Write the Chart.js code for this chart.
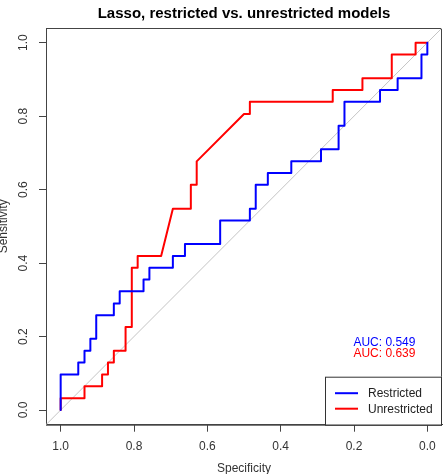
<!DOCTYPE html>
<html>
<head>
<meta charset="utf-8">
<script src="https://cdn.jsdelivr.net/npm/chart.js@4/dist/chart.umd.min.js"></script>
<style>
  html, body { margin: 0; padding: 0; background: #fff; }
</style>
</head>
<body>
<canvas id="rocChart" width="448" height="474"></canvas>
<script>
// ROC points (specificity, sensitivity)
const restrictedSpec = [1, 1, 0.952, 0.952, 0.935, 0.935, 0.919, 0.919, 0.903, 0.903, 0.855, 0.855, 0.839, 0.839,
    0.774, 0.774, 0.758, 0.758, 0.694, 0.694, 0.661, 0.661, 0.565, 0.565, 0.484, 0.484, 0.468, 0.468, 0.435, 0.435,
    0.371, 0.371, 0.290, 0.290, 0.242, 0.242, 0.226, 0.226, 0.129, 0.129, 0.081, 0.081, 0.016, 0.016, 0, 0]
const restrictedSens = [0, 0.097, 0.097, 0.129, 0.129, 0.161, 0.161, 0.194, 0.194, 0.258, 0.258, 0.290, 0.290, 0.323,
    0.323, 0.355, 0.355, 0.387, 0.387, 0.419, 0.419, 0.452, 0.452, 0.516, 0.516, 0.548, 0.548, 0.613, 0.613, 0.645,
    0.645, 0.677, 0.677, 0.710, 0.710, 0.774, 0.774, 0.839, 0.839, 0.871, 0.871, 0.903, 0.903, 0.968, 0.968, 1]

const unrestrictedSpec = [1, 1, 0.935, 0.935, 0.887, 0.887, 0.871, 0.871, 0.855, 0.855, 0.823, 0.823, 0.806, 0.806,
    0.790, 0.790, 0.726, 0.694, 0.645, 0.645, 0.629, 0.629, 0.500, 0.484, 0.484, 0.258, 0.258, 0.177, 0.177,
    0.097, 0.097, 0.032, 0.032, 0]
const unrestrictedSens = [0, 0.032, 0.032, 0.065, 0.065, 0.097, 0.097, 0.129, 0.129, 0.161, 0.161, 0.226, 0.226, 0.387,
    0.387, 0.419, 0.419, 0.548, 0.548, 0.613, 0.613, 0.677, 0.806, 0.806, 0.839, 0.839, 0.871, 0.871, 0.903,
    0.903, 0.968, 0.968, 1, 1]

const seriesNames = ['Restricted', 'Unrestricted']
const aucLabels = ['AUC: 0.549', 'AUC: 0.639']
const specTicks = [1.0, 0.8, 0.6, 0.4, 0.2, 0.0]
const sensTicks = [0.0, 0.2, 0.4, 0.6, 0.8, 1.0]

const FONT = "'Liberation Sans', Arial, sans-serif"

function toPoints(xs, ys) {
    return xs.map((x, i) => ({x: x, y: ys[i]}))
}

const rocDecor = {
    id: 'rocDecor',
    beforeDatasetsDraw(chart) {
        const {ctx, chartArea: a} = chart
        ctx.save()
        ctx.strokeStyle = '#444'
        ctx.lineWidth = 1
        ctx.strokeRect(a.left + 0.5, a.top + 0.5, a.right - a.left - 1, a.bottom - a.top)
        ctx.restore()
    },
    afterDraw(chart) {
        const {ctx, chartArea: a, scales} = chart
        ctx.save()

        // main title
        ctx.fillStyle = '#000'
        ctx.font = 'bold 15px ' + FONT
        ctx.textAlign = 'center'
        ctx.textBaseline = 'middle'
        ctx.fillText('Lasso, restricted vs. unrestricted models', (a.left + a.right) / 2, 14)

        // AUC labels
        ctx.font = '12px ' + FONT
        const aucY = [0.182, 0.152]
        aucLabels.forEach((t, i) => {
            ctx.fillStyle = chart.data.datasets[i].borderColor
            ctx.fillText(t, scales.x.getPixelForValue(0.117), scales.y.getPixelForValue(aucY[i]))
        })

        // legend, bottom right
        const w = 117, h = 48
        const lx = a.right - w, ly = a.bottom - h
        ctx.fillStyle = '#fff'
        ctx.fillRect(lx, ly, w, h)
        ctx.strokeStyle = '#333'
        ctx.lineWidth = 1
        ctx.strokeRect(lx + 0.5, ly + 0.5, w - 1, h)
        ctx.textAlign = 'left'
        seriesNames.forEach((name, i) => {
            const ds = chart.data.datasets[i]
            const yy = ly + 16.5 + i * 15.5
            ctx.strokeStyle = ds.borderColor
            ctx.lineWidth = 2
            ctx.beginPath()
            ctx.moveTo(lx + 10, yy)
            ctx.lineTo(lx + 33, yy)
            ctx.stroke()
            ctx.fillStyle = '#222'
            ctx.fillText(name, lx + 43, yy + 0.5)
        })
        ctx.restore()
    }
}

const ctx = document.getElementById('rocChart')
const rocChart = new Chart(ctx, {
    type: 'scatter',
    data: {
        datasets: [{
            label: seriesNames[0],
            data: toPoints(restrictedSpec, restrictedSens),
            borderColor: '#0000ff',
            backgroundColor: '#0000ff'
        }, {
            label: seriesNames[1],
            data: toPoints(unrestrictedSpec, unrestrictedSens),
            borderColor: '#ff0000',
            backgroundColor: '#ff0000'
        }, {
            label: 'diagonal',
            data: [{x: 1.04, y: -0.04}, {x: -0.04, y: 1.04}],
            borderColor: '#c4c4c4',
            borderWidth: 1
        }]
    },
    options: {
        responsive: false,
        animation: false,
        layout: {padding: {top: 28, left: 0, right: 6, bottom: 0}},
        elements: {
            point: {radius: 0, hoverRadius: 0},
            line: {tension: 0, borderWidth: 2, borderJoinStyle: 'round', borderCapStyle: 'round'}
        },
        datasets: {scatter: {showLine: true}},
        plugins: {
            legend: {display: false},
            tooltip: {enabled: false},
            title: {display: false}
        },
        scales: {
            x: {
                type: 'linear',
                reverse: true,
                min: -0.04,
                max: 1.04,
                afterBuildTicks: (scale) => { scale.ticks = specTicks.map(v => ({value: v})) },
                afterFit: (scale) => { scale.height = 49.3 },
                grid: {drawOnChartArea: false, drawTicks: true, tickLength: 7, color: '#444'},
                border: {display: true, color: '#444'},
                ticks: {
                    padding: 8,
                    color: '#333',
                    font: {family: FONT, size: 12},
                    maxRotation: 0,
                    callback: (v) => Number(v).toFixed(1)
                },
                title: {
                    display: true,
                    text: 'Specificity',
                    color: '#333',
                    font: {family: FONT, size: 12, lineHeight: 1},
                    padding: {top: 0, bottom: -1}
                }
            },
            y: {
                type: 'linear',
                min: -0.04,
                max: 1.04,
                afterBuildTicks: (scale) => { scale.ticks = sensTicks.map(v => ({value: v})) },
                afterFit: (scale) => { scale.width = 46 },
                grid: {drawOnChartArea: false, drawTicks: true, tickLength: 7, color: '#444'},
                border: {display: true, color: '#444'},
                ticks: {
                    padding: 7,
                    color: '#333',
                    crossAlign: 'center',
                    minRotation: 90,
                    maxRotation: 90,
                    font: {family: FONT, size: 12},
                    callback: (v) => Number(v).toFixed(1)
                },
                title: {
                    display: true,
                    text: 'Sensitivity',
                    color: '#333',
                    font: {family: FONT, size: 12, lineHeight: 1},
                    padding: {top: -2.5, bottom: 0}
                }
            }
        }
    },
    plugins: [rocDecor]
})
</script>
</body>
</html>
